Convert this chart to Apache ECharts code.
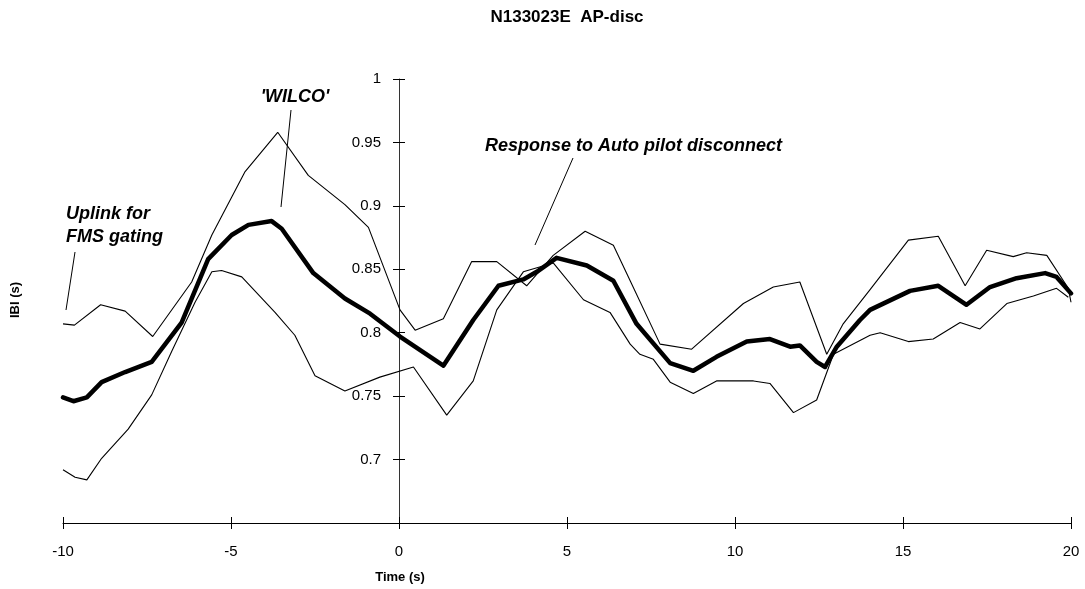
<!DOCTYPE html>
<html>
<head>
<meta charset="utf-8">
<script src="https://cdn.jsdelivr.net/npm/echarts@6/dist/echarts.min.js"></script>
<style>
html,body{margin:0;padding:0;background:#fff;}
#chart{width:1085px;height:589px;}
</style>
</head>
<body>
<div id="chart"></div>
<script>
// ---- data ----
var upperT = [-10,-9.66,-8.88,-8.15,-7.33,-6.17,-5.57,-4.58,-3.61,-2.70,-1.61,-0.91,0.03,0.48,1.32,2.16,2.91,3.80,4.59,5.54,6.38,6.88,7.77,8.71,10.25,11.14,11.93,12.73,13.22,14.02,15.16,16.05,16.85,17.49,18.28,18.68,19.28,19.92,20];
var upperV = [0.807,0.806,0.822,0.817,0.797,0.840,0.877,0.927,0.958,0.924,0.901,0.883,0.818,0.802,0.811,0.856,0.856,0.837,0.861,0.880,0.869,0.841,0.791,0.787,0.823,0.836,0.840,0.783,0.807,0.834,0.873,0.876,0.837,0.865,0.860,0.863,0.861,0.835,0.824];

var meanT = [-10,-9.69,-9.29,-8.85,-8.15,-7.36,-6.47,-5.68,-4.98,-4.48,-3.79,-3.49,-2.55,-1.61,-0.86,0.03,1.32,2.21,2.96,3.70,4.10,4.69,5.59,6.38,7.07,8.07,8.76,9.45,10.35,11.04,11.64,11.93,12.43,12.68,13.03,13.72,14.02,15.21,16.05,16.89,17.59,18.38,19.23,19.57,20];
var meanV = [0.749,0.746,0.749,0.761,0.769,0.777,0.808,0.858,0.877,0.885,0.888,0.882,0.847,0.827,0.815,0.797,0.774,0.810,0.837,0.842,0.848,0.859,0.853,0.841,0.807,0.776,0.770,0.781,0.793,0.795,0.789,0.790,0.777,0.773,0.789,0.810,0.818,0.833,0.837,0.822,0.836,0.843,0.847,0.844,0.831];

var lowerT = [-10,-9.64,-9.29,-8.85,-8.06,-7.36,-6.77,-6.07,-5.57,-5.28,-4.68,-3.69,-3.10,-2.50,-1.61,-0.57,0.43,1.42,2.21,2.91,3.70,4.59,5.49,6.28,6.88,7.17,7.57,8.07,8.76,9.45,10.55,11.04,11.74,12.43,12.93,14.02,14.32,15.16,15.90,16.70,17.29,18.09,18.88,19.57,19.92];
var lowerV = [0.692,0.686,0.684,0.701,0.724,0.751,0.785,0.824,0.848,0.849,0.844,0.816,0.798,0.766,0.754,0.765,0.773,0.735,0.762,0.818,0.848,0.855,0.826,0.816,0.791,0.783,0.779,0.761,0.752,0.762,0.762,0.760,0.737,0.747,0.783,0.798,0.800,0.793,0.795,0.808,0.803,0.823,0.829,0.835,0.828];

var xMin = -10, xMax = 20, xStep = 5;
var yMin = 0.65, yMax = 1, yStep = 0.05;

var titleText = 'N133023E  AP-disc';
var xName = 'Time (s)';
var yName = 'IBI (s)';
var notes = [
  {text: "'WILCO'", tx: 295, ty: 97, x1: 291, y1: 110, x2: 281, y2: 207, align: 'center'},
  {text: 'Response to Auto pilot disconnect', tx: 485, ty: 146, x1: 573, y1: 158, x2: 535, y2: 245, align: 'left'},
  {text: 'Uplink for\nFMS gating', tx: 66, ty: 226, x1: 75, y1: 252, x2: 66, y2: 310, align: 'left'}
];

function pairs(t, v){ return t.map(function(x,i){ return [x, v[i]]; }); }

var FONT = '"Liberation Sans", Arial, sans-serif';
var W = 1085, H = 589;
var GL = 63, GR = 14, GT = 79, GB = 66;
var gridW = W - GL - GR;
var TICK = 6; // half length of the crossing ticks
// y axis crosses the x axis at time 0
var yAxisOffset = -((0 - xMin) / (xMax - xMin)) * gridW;

var chart = echarts.init(document.getElementById('chart'), null, {renderer:'canvas'});

var graphics = [
  {type:'text', x: 567, y: 17, style:{text:titleText, font:'bold 17px ' + FONT, fill:'#000', align:'center', verticalAlign:'middle'}},
  {type:'text', x: 400, y: 577, style:{text:xName, font:'bold 13px ' + FONT, fill:'#000', align:'center', verticalAlign:'middle'}},
  {type:'text', x: 15, y: 300, rotation: Math.PI/2, style:{text:yName, font:'bold 13px ' + FONT, fill:'#000', align:'center', verticalAlign:'middle'}}
];
notes.forEach(function(n){
  graphics.push({type:'text', x:n.tx, y:n.ty, style:{text:n.text, font:'italic bold 18px ' + FONT, fill:'#000', align:n.align, verticalAlign:'middle', lineHeight:23}});
  graphics.push({type:'line', shape:{x1:n.x1,y1:n.y1,x2:n.x2,y2:n.y2}, style:{stroke:'#000', lineWidth:1}});
});

var axisLabelStyle = {color:'#000', fontFamily: FONT, fontSize: 15};

chart.setOption({
  animation: false,
  backgroundColor: '#fff',
  grid: {left: GL, right: GR, top: GT, bottom: GB, containLabel: false},
  graphic: graphics,
  xAxis: [
    {type:'value', min:xMin, max:xMax, interval:xStep, position:'bottom',
     axisLine:{onZero:false, lineStyle:{color:'#000', width:1}},
     axisTick:{show:false},
     axisLabel:Object.assign({margin:21}, axisLabelStyle),
     splitLine:{show:false}},
    {type:'value', min:xMin, max:xMax, interval:xStep, position:'bottom', offset: -TICK,
     axisLine:{show:false, onZero:false},
     axisTick:{show:true, length:2*TICK, lineStyle:{color:'#000'}},
     axisLabel:{show:false}, splitLine:{show:false}}
  ],
  yAxis: [
    {type:'value', min:yMin, max:yMax, interval:yStep, position:'left', offset: yAxisOffset,
     axisLine:{onZero:false, lineStyle:{color:'#333', width:1}},
     axisTick:{show:false},
     axisLabel:Object.assign({margin:18, formatter:function(v){
        var r = Math.round(v*100)/100; return r === 0.65 ? '' : String(r);
     }}, axisLabelStyle),
     splitLine:{show:false}},
    {type:'value', min:yMin, max:yMax, interval:yStep, position:'left', offset: yAxisOffset - TICK,
     axisLine:{show:false, onZero:false},
     axisTick:{show:true, length:2*TICK, lineStyle:{color:'#000'}},
     axisLabel:{show:false}, splitLine:{show:false}}
  ],
  series: [
    {type:'line', name:'upper', data:pairs(upperT, upperV), showSymbol:false, symbol:'none',
     lineStyle:{color:'#000', width:1.1}, z:3},
    {type:'line', name:'lower', data:pairs(lowerT, lowerV), showSymbol:false, symbol:'none',
     lineStyle:{color:'#000', width:1.1}, z:3},
    {type:'line', name:'mean', data:pairs(meanT, meanV), showSymbol:false, symbol:'none',
     lineStyle:{color:'#000', width:4.5, join:'round', cap:'round'}, z:4}
  ]
});
</script>
</body>
</html>
